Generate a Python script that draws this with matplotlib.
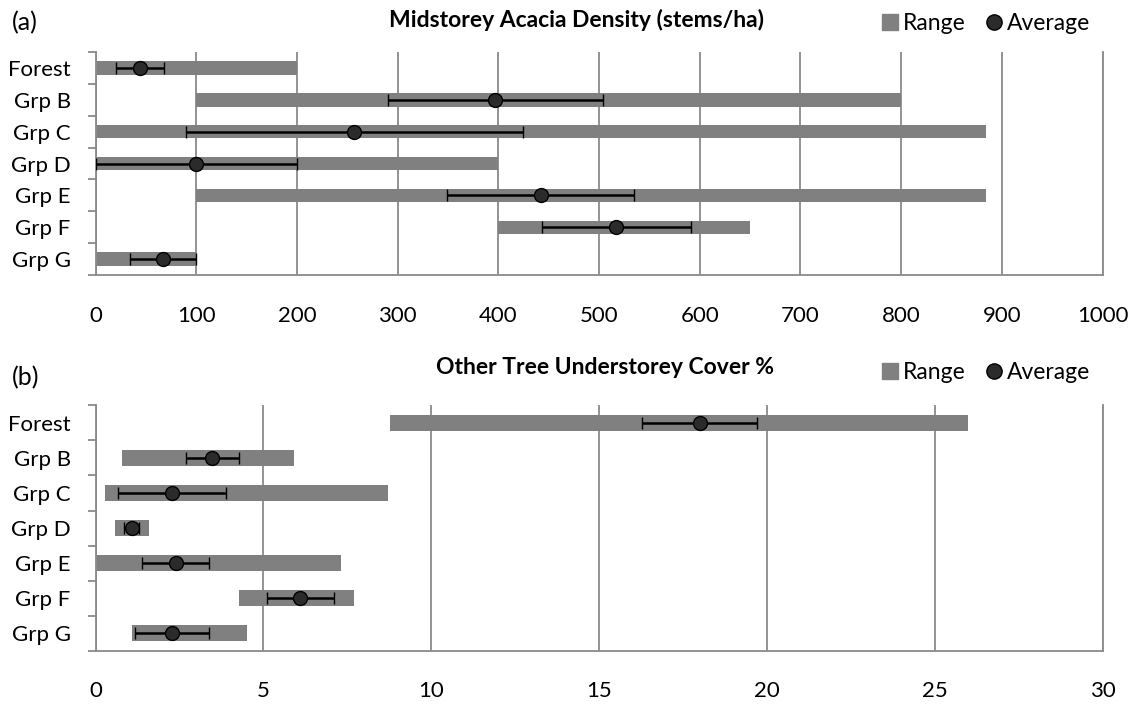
import matplotlib.pyplot as plt
from matplotlib.lines import Line2D
import numpy as np

plt.rcParams['font.family'] = ['Lato', 'DejaVu Sans']

# -----------------------------
# Datos
# -----------------------------
groups = ["Forest", "Grp B", "Grp C", "Grp D", "Grp E", "Grp F", "Grp G"]

# (a) densidad de acacia en el sotobosque medio (stems/ha)
acacia_min = [0, 100, 0, 0, 100, 400, 0]
acacia_max = [200, 800, 884, 400, 884, 650, 100]
acacia_avg = [44, 397, 257, 100, 442, 517, 67]
acacia_err = [24, 107, 167, 100, 93, 74, 33]

# (b) cobertura de otros árboles en el sotobosque (%)
cover_min = [8.77, 0.77, 0.28, 0.58, 0.0, 4.28, 1.08]
cover_max = [26.0, 5.91, 8.72, 1.59, 7.3, 7.7, 4.5]
cover_avg = [18.0, 3.48, 2.28, 1.07, 2.39, 6.09, 2.28]
cover_err = [1.71, 0.8, 1.61, 0.22, 1.0, 1.0, 1.11]

BAR = "#808080"
GRID = "#8a8a8a"
DOT = "#2b2b2b"
FS = 16

fig = plt.figure(figsize=(11.39, 7.05), dpi=100)
ax_a = fig.add_axes([0.084, 0.610, 0.884, 0.316])
ax_b = fig.add_axes([0.084, 0.077, 0.884, 0.348])


def range_panel(ax, lo, hi, avg, err, xmax, step, bar_h):
    y = np.arange(len(groups))
    lo = np.array(lo)
    hi = np.array(hi)
    ax.barh(y, hi - lo, left=lo, height=bar_h, color=BAR, zorder=2)
    ax.errorbar(avg, y, xerr=err, fmt="o", ms=10, mfc=DOT, mec="black",
                mew=1.0, ecolor="black", elinewidth=1.8, capsize=4,
                capthick=1.8, zorder=3)
    ax.set_xlim(0, xmax)
    ax.set_ylim(len(groups) - 0.5, -0.5)
    ax.set_xticks(np.arange(0, xmax + step, step))
    ax.set_yticks(y)
    ax.set_yticklabels(groups)
    ax.set_yticks(np.arange(-0.5, len(groups), 1.0), minor=True)
    ax.tick_params(axis="y", which="major", length=0, pad=18, labelsize=FS)
    ax.tick_params(axis="y", which="minor", length=6, width=1.3, color=GRID)
    ax.tick_params(axis="x", length=0, pad=22, labelsize=FS)
    ax.grid(axis="x", color=GRID, linewidth=1.3, zorder=0)
    ax.set_axisbelow(True)
    for side in ("top", "right"):
        ax.spines[side].set_visible(False)
    for side in ("left", "bottom"):
        ax.spines[side].set_color(GRID)
        ax.spines[side].set_linewidth(1.3)
    ax.axvline(xmax, color=GRID, linewidth=1.3, zorder=0, clip_on=False)


range_panel(ax_a, acacia_min, acacia_max, acacia_avg, acacia_err, 1000, 100, 0.42)
range_panel(ax_b, cover_min, cover_max, cover_avg, cover_err, 30, 5, 0.46)

# Títulos y etiquetas de panel
fig.text(0.506, 0.971, "Midstorey Acacia Density (stems/ha)", ha="center",
         va="center", fontsize=16.5, fontweight="bold")
fig.text(0.531, 0.479, "Other Tree Understorey Cover %", ha="center",
         va="center", fontsize=16.5, fontweight="bold")
fig.text(0.010, 0.968, "(a)", ha="left", va="center", fontsize=18)
fig.text(0.010, 0.465, "(b)", ha="left", va="center", fontsize=18)

# Leyendas
handles = [
    Line2D([], [], ls="none", marker="s", ms=12, mfc=BAR, mec=BAR),
    Line2D([], [], ls="none", marker="o", ms=11, mfc=DOT, mec="black"),
]
for ax, ypos in ((ax_a, 0.966), (ax_b, 0.471)):
    ax.legend(handles, ["Range", "Average"], loc="center right",
              bbox_to_anchor=(0.957, ypos), bbox_transform=fig.transFigure,
              ncol=2, frameon=False, fontsize=16.5, handlelength=0.7,
              handletextpad=0.2, columnspacing=0.9, borderaxespad=0,
              borderpad=0)

plt.savefig("out.png", dpi=100)
